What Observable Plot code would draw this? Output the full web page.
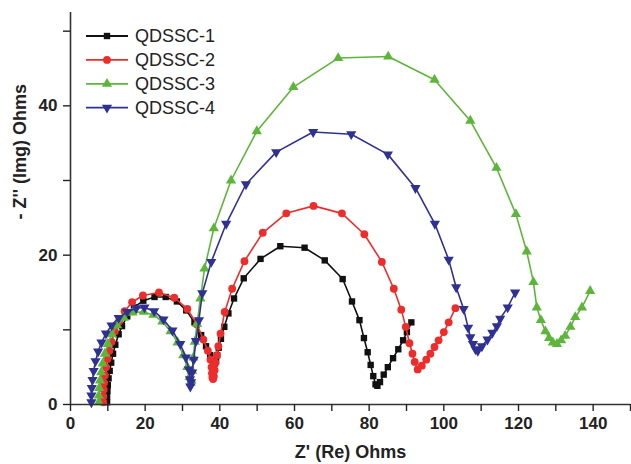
<!DOCTYPE html>
<html>
<head>
<meta charset="utf-8">
<script src="https://cdn.jsdelivr.net/npm/d3@7"></script>
<script src="https://cdn.jsdelivr.net/npm/@observablehq/plot@0.6"></script>
<style>
  html, body { margin: 0; padding: 0; background: #fff; }
  #wrap { position: relative; width: 631px; height: 464px; font-family: "Liberation Sans", Arial, sans-serif; }
  #legend { position: absolute; left: 84px; top: 24px; }
</style>
</head>
<body>
<div id="wrap"><svg id="legend" width="180" height="96"></svg></div>
<script>
// ---- data ----
const seriesNames = ["QDSSC-1", "QDSSC-2", "QDSSC-3", "QDSSC-4"];
const seriesColors = ["#111111", "#ec2d2b", "#5db53a", "#2f3192"];

const re1 = [9.8, 9.8, 9.9, 10.0, 10.2, 10.5, 10.9, 11.4, 12.0, 12.9, 13.8, 15.2, 17.0, 19.5, 22.5, 25.5, 28.5, 31.0, 33.2, 35.0, 36.3, 37.4, 38.2, 38.7, 39.0, 39.3, 39.7, 40.3, 41.2, 42.3, 43.8, 46.4, 50.9, 56.2, 62.7, 68.1, 72.9, 75.4, 77.4, 78.6, 79.6, 80.4, 81.1, 81.7, 82.2, 82.9, 83.9, 85.0, 86.4, 87.8, 89.1, 90.1, 91.3];
const im1 = [0.3, 1.0, 1.8, 2.6, 3.5, 4.5, 5.6, 6.8, 8.0, 9.4, 10.5, 11.8, 13.0, 13.9, 14.4, 14.4, 13.8, 12.6, 11.0, 9.3, 7.8, 6.6, 5.8, 5.5, 5.8, 6.6, 7.6, 8.8, 10.4, 12.2, 14.2, 16.9, 19.5, 21.2, 21.0, 19.3, 16.8, 13.8, 11.3, 8.9, 7.0, 5.3, 3.8, 2.7, 2.5, 3.0, 4.0, 5.0, 6.2, 7.4, 8.6, 9.7, 11.0];

const re2 = [8.8, 8.8, 8.9, 9.0, 9.2, 9.5, 9.9, 10.4, 11.0, 11.9, 13.0, 14.5, 16.5, 19.4, 23.7, 27.8, 31.3, 33.9, 35.6, 36.8, 37.5, 37.8, 37.9, 38.0, 38.2, 38.4, 38.6, 38.8, 39.2, 39.6, 40.2, 41.3, 43.3, 46.6, 51.5, 57.8, 65.1, 72.7, 78.7, 83.4, 86.6, 88.6, 89.8, 90.8, 91.6, 92.2, 93.0, 94.1, 95.3, 96.4, 97.5, 98.6, 100.0, 101.3, 103.1];
const im2 = [0.3, 1.1, 2.0, 2.9, 3.9, 5.0, 6.1, 7.2, 8.4, 9.8, 11.1, 12.5, 13.7, 14.6, 15.0, 14.3, 12.8, 10.7, 8.7, 7.2, 6.0, 5.0, 4.2, 3.6, 3.4, 3.8, 4.6, 5.6, 6.6, 7.8, 9.5, 12.4, 15.5, 19.2, 23.0, 25.6, 26.6, 25.6, 22.8, 19.1, 15.5, 12.7, 10.4, 8.2, 6.8, 5.7, 4.7, 5.2, 6.0, 6.8, 7.7, 8.6, 9.7, 11.0, 12.9];

const re3 = [7.6, 7.6, 7.7, 7.9, 8.2, 8.6, 9.2, 10.0, 11.1, 12.5, 14.3, 16.6, 19.6, 22.2, 24.6, 26.8, 28.7, 30.2, 31.3, 31.9, 32.2, 32.4, 32.6, 32.9, 33.3, 33.9, 34.8, 35.9, 38.4, 43.0, 49.9, 59.7, 71.7, 85.1, 97.5, 107.1, 114.1, 119.3, 122.2, 124.0, 124.9, 126.0, 127.2, 128.2, 129.2, 130.3, 131.4, 132.5, 133.9, 135.2, 137.0, 139.2];
const im3 = [0.3, 1.2, 2.2, 3.2, 4.3, 5.5, 6.8, 8.1, 9.4, 10.6, 11.6, 12.3, 12.4, 12.0, 11.1, 9.8, 8.3, 6.6, 5.0, 3.7, 2.9, 3.2, 4.5, 6.3, 8.4, 10.8, 14.2, 18.2, 23.6, 30.0, 36.6, 42.5, 46.4, 46.6, 43.5, 38.0, 31.7, 25.5, 20.5, 16.4, 13.0, 11.3, 9.8, 8.9, 8.3, 8.1, 8.6, 9.2, 10.4, 11.7, 13.0, 15.2];

const re4 = [5.6, 5.6, 5.7, 5.9, 6.2, 6.7, 7.4, 8.3, 9.5, 11.0, 12.9, 15.2, 17.6, 19.8, 22.4, 24.9, 27.3, 29.4, 30.9, 31.7, 32.0, 32.1, 32.3, 32.6, 33.0, 33.6, 34.4, 35.3, 37.7, 41.7, 47.0, 55.1, 65.0, 75.2, 85.0, 92.4, 97.6, 101.3, 103.3, 105.3, 106.5, 107.1, 107.8, 108.5, 109.1, 110.2, 111.7, 113.0, 114.2, 115.1, 117.1, 119.1];
const im4 = [0.3, 1.2, 2.2, 3.3, 4.5, 5.8, 7.1, 8.3, 9.5, 10.6, 11.6, 12.4, 12.9, 13.0, 12.5, 11.4, 9.9, 8.1, 6.3, 4.7, 3.4, 2.4, 3.0, 4.3, 6.0, 8.5, 11.3, 14.9, 19.1, 24.2, 29.5, 33.8, 36.5, 36.2, 33.5, 29.0, 24.2, 19.4, 15.7, 12.8, 10.3, 9.0, 8.1, 7.4, 7.2, 7.8, 8.7, 9.6, 10.5, 11.5, 13.0, 15.0];

const xTickValues = [0, 10, 20, 30, 40, 50, 60, 70, 80, 90, 100, 110, 120, 130, 140, 150];
const xTickLabels = [0, 20, 40, 60, 80, 100, 120, 140];
const yTickValues = [0, 10, 20, 30, 40, 50];
const yTickLabels = [0, 20, 40];
const xTitle = "Z' (Re) Ohms";
const yTitle = "- Z'' (Img) Ohms";

// ---- build tables ----
const reAll = [re1, re2, re3, re4];
const imAll = [im1, im2, im3, im4];
const tables = seriesNames.map((name, i) => reAll[i].map((r, j) => ({series: name, re: r, im: imAll[i][j]})));

const triangleDown = {
  draw(context, size) {
    const s3 = Math.sqrt(3);
    const y = -Math.sqrt(size / (s3 * 3));
    context.moveTo(0, -y * 2);
    context.lineTo(-s3 * y, y);
    context.lineTo(s3 * y, y);
    context.closePath();
  }
};
const symbols = ["square", "circle", "triangle", triangleDown];
const radii = [3.6, 3.9, 3.8, 3.8];

const font = "Liberation Sans, Arial, sans-serif";
const seriesMarks = tables.flatMap((t, i) => [
  Plot.line(t, {x: "re", y: "im", stroke: seriesColors[i], strokeWidth: 1.6}),
  Plot.dot(t, {x: "re", y: "im", fill: seriesColors[i], stroke: "none", symbol: symbols[i], r: radii[i]})
]);

const chart = Plot.plot({
  width: 631,
  height: 464,
  marginLeft: 70,
  marginRight: 1,
  marginTop: 12,
  marginBottom: 60,
  style: {fontFamily: font, background: "#fff", overflow: "visible"},
  x: {domain: [0, 150]},
  y: {domain: [0, 52.5]},
  marks: [
    ...seriesMarks,
    Plot.ruleY([0], {stroke: "#333", strokeWidth: 1.6}),
    Plot.ruleX([0], {stroke: "#333", strokeWidth: 1.6}),
    Plot.axisX({ticks: xTickValues, tickSize: 7, tickPadding: 5, tickFormat: d => xTickLabels.includes(d) ? String(d) : "", label: null, fontSize: 17, fontWeight: "bold", color: "#222", strokeWidth: 1.4}),
    Plot.axisY({ticks: yTickValues, tickSize: 7, tickPadding: 6, tickFormat: d => yTickLabels.includes(d) ? String(d) : "", label: null, fontSize: 17, fontWeight: "bold", color: "#222", strokeWidth: 1.4}),
    Plot.text([xTitle], {text: d => d, frameAnchor: "bottom", dy: 53, fontSize: 18, fontWeight: "bold", fill: "#222"}),
    Plot.text([yTitle], {text: d => d, frameAnchor: "left", dx: -50, dy: 11, rotate: -90, fontSize: 18, fontWeight: "bold", fill: "#222"})
  ]
});
document.getElementById("wrap").prepend(chart);

// ---- legend ----
const leg = d3.select("#legend");
const symGen = [d3.symbolSquare, d3.symbolCircle, d3.symbolTriangle, triangleDown];
seriesNames.forEach((name, i) => {
  const g = leg.append("g").attr("transform", `translate(0, ${12 + i * 23.9})`);
  g.append("line").attr("x1", 2).attr("x2", 44).attr("y1", 0).attr("y2", 0)
    .attr("stroke", seriesColors[i]).attr("stroke-width", 1.8);
  g.append("path").attr("transform", "translate(23,0)")
    .attr("d", d3.symbol(symGen[i], Math.PI * radii[i] * radii[i])())
    .attr("fill", seriesColors[i]);
  g.append("text").attr("x", 51).attr("y", 0).attr("dy", "0.36em")
    .attr("font-family", font).attr("font-size", 18).attr("fill", "#222").text(name);
});
</script>
</body>
</html>
